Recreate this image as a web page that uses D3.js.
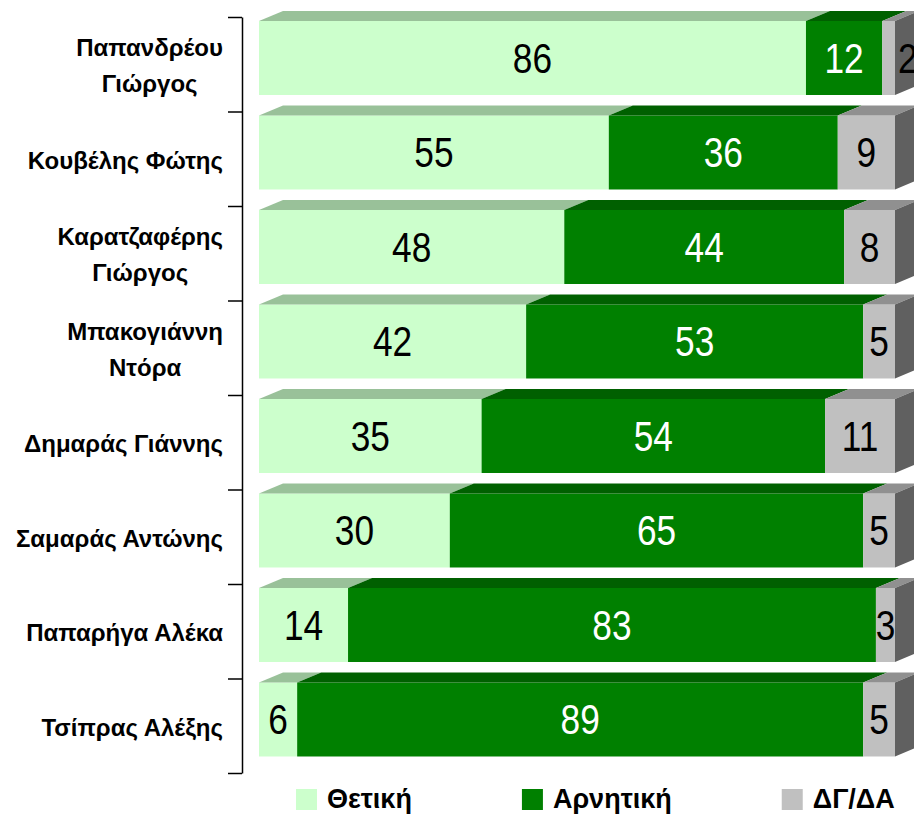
<!DOCTYPE html>
<html>
<head>
<meta charset="utf-8">
<script src="https://cdn.jsdelivr.net/npm/d3@7"></script>
<style>
  html, body { margin: 0; padding: 0; background: #fff; }
  svg { display: block; }
</style>
</head>
<body>
<svg id="chart" width="914" height="816"></svg>
<script>
// ---- data ----
const categories = [
  "Παπανδρέου\nΓιώργος",
  "Κουβέλης Φώτης",
  "Καρατζαφέρης\nΓιώργος",
  "Μπακογιάννη\nΝτόρα",
  "Δημαράς Γιάννης",
  "Σαμαράς Αντώνης",
  "Παπαρήγα Αλέκα",
  "Τσίπρας Αλέξης"
];
const seriesNames = ["Θετική", "Αρνητική", "ΔΓ/ΔΑ"];
const positive = [86, 55, 48, 42, 35, 30, 14, 6];
const negative = [12, 36, 44, 53, 54, 65, 83, 89];
const dkna     = [2, 9, 8, 5, 11, 5, 3, 5];

// ---- styles ----
const frontColors = ["#CCFFCC", "#008000", "#C0C0C0"];
const topColors   = ["#99C199", "#006000", "#909090"];
const sideColor   = "#606060";
const labelColors = ["#000", "#fff", "#000"];

const svg = d3.select("#chart");

function fontAvailable(name) {
  const c = document.createElement("canvas").getContext("2d");
  c.font = "40px monospace";
  const base = c.measureText("0123456789ΑΒΓ").width;
  c.font = "40px '" + name + "', monospace";
  return c.measureText("0123456789ΑΒΓ").width !== base;
}
const narrowOK = fontAvailable("Liberation Sans Narrow");
const numFont = narrowOK ? "'Liberation Sans Narrow', 'Liberation Sans', Arial, sans-serif" : "'Liberation Sans', Arial, sans-serif";
const numScaleX = narrowOK ? 1.0 : 0.84;

const plotTop = 17, plotBottom = 773;
const x = d3.scaleLinear().domain([0, 100]).range([259, 895]);
const y = d3.scaleBand().domain(categories).range([plotTop, plotBottom]).paddingInner(0).paddingOuter(0);
const dx = 24, dy = 10;

const series = [positive, negative, dkna];
const rows = categories.map((c, i) => {
  let acc = 0;
  const segs = series.map((s, k) => {
    const v = s[i];
    const seg = { k, v, x0: acc, x1: acc + v };
    acc += v;
    return seg;
  });
  return { c, i, segs };
});

const bw = y.bandwidth();
const frontOff = bw * 0.0423, frontH = bw * 0.783;

const g = svg.append("g");
rows.forEach(r => {
  const yt = y(r.c) + frontOff, yb = yt + frontH;
  const rg = g.append("g");
  r.segs.forEach((s, idx) => {
    const X0 = x(s.x0), X1 = x(s.x1);
    // front
    rg.append("rect").attr("x", X0).attr("y", yt).attr("width", X1 - X0).attr("height", frontH)
      .attr("fill", frontColors[s.k]);
    // top
    rg.append("path")
      .attr("d", `M${X0},${yt}L${X0 + dx},${yt - dy}L${X1 + dx},${yt - dy}L${X1},${yt}Z`)
      .attr("fill", topColors[s.k]);
    if (idx === r.segs.length - 1) {
      rg.append("path")
        .attr("d", `M${X1},${yt}L${X1 + dx},${yt - dy}L${X1 + dx},${yb - dy}L${X1},${yb}Z`)
        .attr("fill", sideColor);
    }
  });
  // value labels
  r.segs.forEach(s => {
    const X0 = x(s.x0), X1 = x(s.x1);
    const t = rg.append("text")
      .attr("font-family", numFont)
      .attr("font-size", 42)
      .attr("fill", labelColors[s.k])
      .text(s.v);
    const w = t.node().getComputedTextLength() * numScaleX;
    let cx = (X0 + X1) / 2;
    if (w > (X1 - X0) + 2) cx = X1 + 3 + w / 2;
    const base = (yt + yb) / 2 + 15;
    t.attr("text-anchor", "middle")
     .attr("transform", `translate(${cx},${base}) scale(${numScaleX},1)`);
  });
});

// axis with ticks at band boundaries
const yIdx = d3.scaleLinear().domain([0, categories.length]).range([plotTop, plotBottom]);
const axis = d3.axisLeft(yIdx).tickValues(d3.range(categories.length + 1)).tickFormat("").tickSizeInner(14).tickSizeOuter(0);
const ag = svg.append("g").attr("transform", "translate(242,0)").call(axis);
ag.select(".domain").attr("stroke", "#000").attr("stroke-width", 1.5);
ag.selectAll(".tick line").attr("stroke", "#000").attr("stroke-width", 1.5);

// category labels
const labelRight = 223;
const lineGap = 36;
categories.forEach(c => {
  const lines = c.split("\n");
  const cy = y(c) + bw / 2 + 1.5;
  const tg = svg.append("g");
  const texts = lines.map((ln, j) => tg.append("text")
    .attr("font-family", "'Liberation Sans', Arial, sans-serif")
    .attr("font-weight", "bold")
    .attr("font-size", 24)
    .attr("fill", "#000")
    .text(ln));
  const widths = texts.map(t => t.node().getComputedTextLength());
  const maxW = d3.max(widths);
  const cx = labelRight - maxW / 2;
  texts.forEach((t, j) => {
    const off = (j - (lines.length - 1) / 2) * lineGap;
    t.attr("x", cx).attr("y", cy + off + 8.7).attr("text-anchor", "middle");
  });
});

// legend
let lx = 296;
const lg = svg.append("g");
seriesNames.forEach((n, k) => {
  lg.append("rect").attr("x", lx).attr("y", 789).attr("width", 21).attr("height", 21).attr("fill", frontColors[k]);
  const t = lg.append("text")
    .attr("x", lx + 31).attr("y", 808)
    .attr("font-family", "'Liberation Sans', Arial, sans-serif")
    .attr("font-weight", "bold")
    .attr("font-size", 27)
    .attr("fill", "#000")
    .text(n);
  lx = lx + 31 + t.node().getComputedTextLength() + 110;
});
</script>
</body>
</html>
